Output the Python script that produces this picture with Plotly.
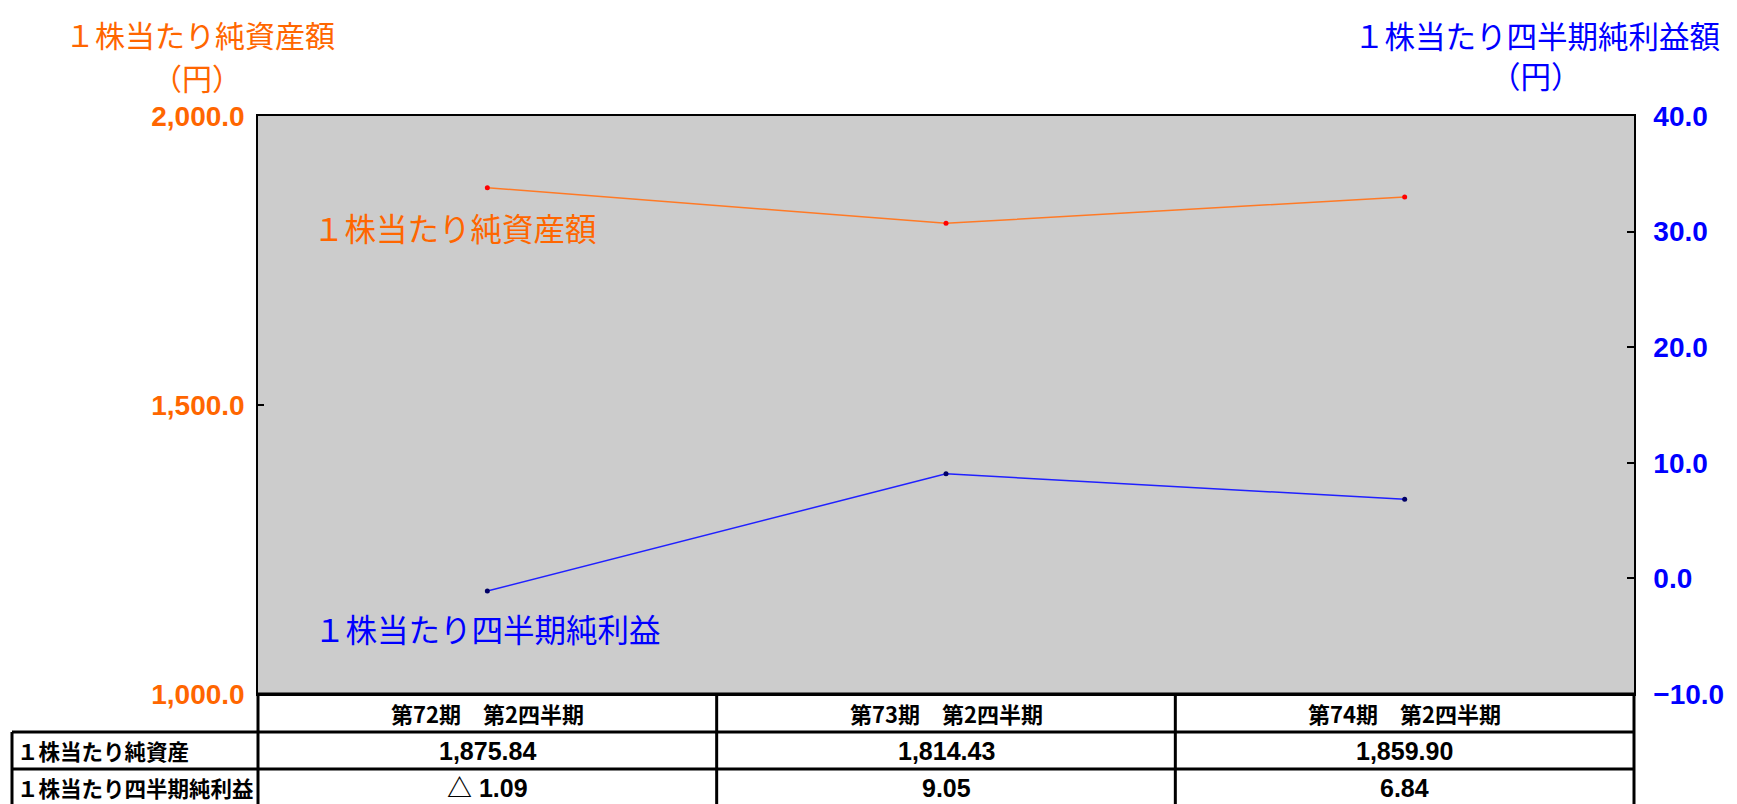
import plotly.graph_objects as go

# ---- data ----
categories = ["第72期　第2四半期", "第73期　第2四半期", "第74期　第2四半期"]
net_assets_per_share = [1875.84, 1814.43, 1859.90]
net_income_per_share = [-1.09, 9.05, 6.84]
net_assets_labels = ["1,875.84", "1,814.43", "1,859.90"]
net_income_labels = ["△ 1.09", "9.05", "6.84"]
row_labels = ["１株当たり純資産", "１株当たり四半期純利益"]
left_ticks = [1000, 1500, 2000]
right_ticks = [-10, 0, 10, 20, 30, 40]

W, H = 1737, 804
ORANGE = "#FF6600"
BLUE = "#0000FF"
CJK = "Noto Sans CJK JP"
NUM = "Liberation Sans"

def px(x):
    return x / W

def py(y):
    return 1 - y / H

plot_l, plot_r, plot_t, plot_b = 258, 1634, 116, 694

fig = go.Figure()
fig.add_trace(go.Scatter(
    x=categories, y=net_assets_per_share, mode="lines+markers",
    line=dict(color="#FF7A26", width=1.5),
    marker=dict(color="#FF0000", size=5),
    yaxis="y", showlegend=False, hoverinfo="skip"))
fig.add_trace(go.Scatter(
    x=categories, y=net_income_per_share, mode="lines+markers",
    line=dict(color="#2020FF", width=1.5),
    marker=dict(color="#000066", size=5),
    yaxis="y2", showlegend=False, hoverinfo="skip"))

fig.update_layout(
    width=W, height=H,
    margin=dict(l=0, r=0, t=0, b=0, pad=0),
    paper_bgcolor="white",
    plot_bgcolor="#CCCCCC",
    xaxis=dict(
        type="category", range=[-0.5, len(categories) - 0.5],
        domain=[px(plot_l), px(plot_r)], automargin=False,
        showticklabels=False, ticks="", showgrid=False, zeroline=False,
        showline=True, linecolor="black", linewidth=1.5, mirror=True,
        fixedrange=True),
    yaxis=dict(
        range=[1000, 2000], tickvals=left_ticks, tickformat=",.1f",
        domain=[py(plot_b), py(plot_t)], automargin=False,
        ticks="inside", ticklen=6, tickwidth=1.5, tickcolor="black",
        tickfont=dict(family=NUM, size=28, color=ORANGE, weight="bold"),
        ticklabelstandoff=6,
        showgrid=False, zeroline=False,
        showline=True, linecolor="black", linewidth=1.5),
    yaxis2=dict(
        range=[-10, 40], tickvals=right_ticks, tickformat=".1f",
        overlaying="y", side="right", anchor="x", automargin=False,
        ticks="inside", ticklen=7, tickwidth=1.5, tickcolor="black",
        tickfont=dict(family=NUM, size=28, color=BLUE, weight="bold"),
        ticklabelstandoff=12,
        showgrid=False, zeroline=False,
        showline=True, linecolor="black", linewidth=1.5),
)

annotations = []
# axis titles
annotations += [
    dict(text="１株当たり純資産額", x=px(200), y=py(34), xref="paper", yref="paper",
         xanchor="center", yanchor="middle", showarrow=False,
         font=dict(family=CJK, size=30, color=ORANGE)),
    dict(text="（円）", x=px(197), y=py(77), xref="paper", yref="paper",
         xanchor="center", yanchor="middle", showarrow=False,
         font=dict(family=CJK, size=30, color=ORANGE)),
    dict(text="１株当たり四半期純利益額", x=px(1537), y=py(35), xref="paper", yref="paper",
         xanchor="center", yanchor="middle", showarrow=False,
         font=dict(family=CJK, size=30.5, color=BLUE)),
    dict(text="（円）", x=px(1536), y=py(75), xref="paper", yref="paper",
         xanchor="center", yanchor="middle", showarrow=False,
         font=dict(family=CJK, size=30.5, color=BLUE)),
]
# series labels inside plot
annotations += [
    dict(text="１株当たり純資産額", x=px(311), y=py(227), xref="paper", yref="paper",
         xanchor="left", yanchor="middle", showarrow=False,
         font=dict(family=CJK, size=31.5, color=ORANGE)),
    dict(text="１株当たり四半期純利益", x=px(312), y=py(628), xref="paper", yref="paper",
         xanchor="left", yanchor="middle", showarrow=False,
         font=dict(family=CJK, size=31.5, color=BLUE)),
]

row_y = [713, 750.5, 787.5]
# header row
for c in categories:
    annotations.append(dict(text=c, x=c, y=py(row_y[0]), xref="x", yref="paper",
                            xanchor="center", yanchor="middle", showarrow=False,
                            font=dict(family=CJK, size=22, color="black", weight="bold")))
# data rows
for ri, labels in enumerate([net_assets_labels, net_income_labels]):
    annotations.append(dict(text=row_labels[ri], x=px(15), y=py(row_y[ri + 1]),
                            xref="paper", yref="paper", xanchor="left", yanchor="middle",
                            showarrow=False,
                            font=dict(family=CJK, size=21.5, color="black", weight="bold")))
    for c, lab in zip(categories, labels):
        annotations.append(dict(text=lab, x=c, y=py(row_y[ri + 1]), xref="x", yref="paper",
                                xanchor="center", yanchor="middle", showarrow=False,
                                font=dict(family=NUM + ", " + CJK, size=25, color="black",
                                          weight="bold")))
fig.update_layout(annotations=annotations)

shapes = []
LW = 3
tb = 808  # table bottom (below visible area)
shapes.append(dict(type="line", xref="paper", yref="paper",
                   x0=px(plot_l), x1=px(plot_r), y0=py(plot_b), y1=py(plot_b),
                   line=dict(color="black", width=LW)))
for yy in [732, 769]:
    shapes.append(dict(type="line", xref="paper", yref="paper",
                       x0=px(12), x1=px(plot_r), y0=py(yy), y1=py(yy),
                       line=dict(color="black", width=LW)))
for xx, ytop in [(12, 732), (plot_l, plot_b), (plot_r, plot_b)]:
    shapes.append(dict(type="line", xref="paper", yref="paper",
                       x0=px(xx), x1=px(xx), y0=py(ytop), y1=py(tb),
                       line=dict(color="black", width=LW)))
for i in range(1, len(categories)):
    shapes.append(dict(type="line", xref="x", yref="paper",
                       x0=i - 0.5, x1=i - 0.5, y0=py(plot_b), y1=py(tb),
                       line=dict(color="black", width=LW)))
fig.update_layout(shapes=shapes)

fig.write_html("out.html", config={"displayModeBar": False},
               post_script="document.body.style.margin='0px';document.body.style.overflow='hidden';")
